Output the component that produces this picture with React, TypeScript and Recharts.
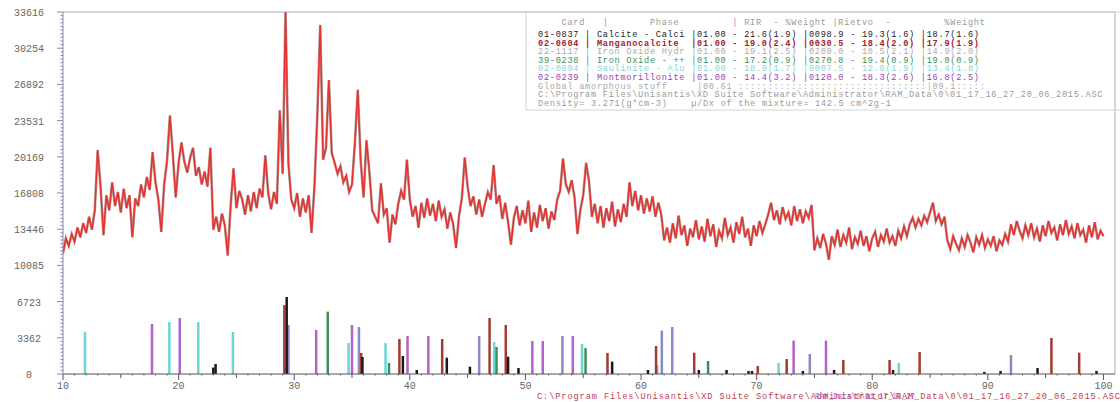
import { ComposedChart, Line, XAxis, YAxis, ReferenceLine } from "recharts";

// measured pattern: 10-100 deg 2theta, one reading every 0.25 deg
const angleStart = 10;
const angleStep = 0.25;
const counts = [
  11200, 12600, 11900, 13000, 12300, 13600, 12700, 14000, 13100, 14600, 13400, 15200, 20800, 17400, 12900, 16600, 15200, 17800, 15600, 16900,
  15000, 17200, 15400, 16600, 12700, 16300, 15600, 17600, 16400, 18300, 17100, 20600, 17800, 16200, 13200, 17600, 19800, 24000, 20400, 16400,
  19600, 21500, 19700, 18700, 20100, 21000, 18400, 19200, 17600, 18800, 17400, 21000, 13400, 14600, 13200, 14900, 13800, 11000, 15600, 19100,
  15400, 17000, 16200, 14800, 16600, 15100, 16900, 15400, 17200, 16400, 20300, 16800, 15300, 16900, 15800, 24500, 18600, 33600, 19500, 16200,
  15400, 16800, 14600, 16300, 15000, 16600, 13100, 17400, 24000, 32400, 19900, 21000, 27300, 20500, 19600, 18600, 19300, 17800, 18400, 16900,
  17600, 21500, 26400, 19800, 16400, 21700, 18800, 15200, 14600, 14000, 17700, 14800, 15400, 12200, 14800, 13900, 15800, 17000, 16200, 19900,
  16200, 14600, 15600, 13600, 15900, 14500, 16300, 14700, 15800, 14200, 16100, 14600, 15300, 13500, 15000, 13900, 11700, 14600, 16300, 20100,
  17400, 15600, 16500, 14800, 16200, 14600, 15800, 16900, 16200, 19400, 15800, 16600, 14400, 15900, 14100, 12000, 14500, 15600, 13800, 15200,
  14000, 16100, 13200, 15000, 13600, 15700, 14200, 15400, 13500, 15100, 14300, 16200, 17000, 20000, 17600, 16900, 18000, 16400, 13000, 15200,
  16600, 19600, 17900, 14600, 15800, 14000, 15600, 13600, 15400, 14200, 16000, 13700, 15300, 14100, 15800, 14600, 17800, 15600, 17000, 15200,
  16600, 14900, 16300, 15100, 16500, 14600, 15900, 14800, 12400, 13600, 12200, 14000, 12600, 14700, 12900, 13800, 11900, 13500, 12700, 14300,
  12500, 13700, 12300, 14400, 12800, 13900, 11800, 13300, 12600, 14500, 12900, 13600, 12200, 14100, 13000, 14600, 12700, 13500, 11900, 13800,
  12800, 14200, 13100, 13900, 14800, 15900, 14300, 15200, 13900, 15500, 14400, 15000, 13800, 15600, 14200, 15300, 14000, 15100, 14500, 15700,
  11500, 12600, 11700, 13000, 12100, 10600, 12800, 12000, 13400, 11800, 12900, 12200, 13600, 11600, 12700, 12100, 13300, 11900, 12800, 11400,
  12600, 13200, 11800, 12900, 12300, 13500, 12200, 12800, 11900, 13300, 12600, 13700, 12800, 13900, 14500, 13600, 14400, 13800, 14700, 14100,
  15000, 15900, 14200, 14800, 13900, 14600, 12400, 11600, 12800, 12100, 11500, 12600, 11800, 12900, 12200, 11300, 12700, 12000, 12900, 11700,
  12500, 11900, 12800, 11400, 12400, 12000, 13000, 12300, 13900, 12900, 14200, 13300, 12600, 13800, 12900, 14000, 12700, 13500, 12300, 13800,
  12800, 14200, 13100, 13600, 12400, 13900, 12900, 14300, 13000, 13700, 12600, 14000, 12900, 13400, 12200, 13800, 12700, 14100, 12500, 13300,
  12800,
];

const yMax = 33616;
const yTickLabels = ["0", "3362", "6723", "10085", "13446", "16808", "20169", "23531", "26892", "30254", "33616"];
const xTickLabels = [10, 20, 30, 40, 50, 60, 70, 80, 90, 100];

// reference sticks per phase: [2theta, intensity]
const calcite = [
  [23.0, 600], [23.2, 930], [29.35, 7150], [35.9, 1580], [39.4, 1670], [40.6, 370], [43.2, 1520],
  [45.2, 680], [48.5, 1610], [49.4, 560], [57.5, 1150], [60.6, 370], [65.0, 370], [67.4, 370],
  [69.3, 280], [69.6, 280], [74.0, 280], [76.7, 370], [81.8, 370], [89.7, 200], [91.1, 280],
  [94.3, 560], [99.4, 280],
];
const manganocalcite = [
  [29.15, 6400], [35.8, 1950], [39.1, 3250], [42.8, 3250], [46.9, 5200], [48.3, 4550], [57.1, 1950],
  [61.3, 2600], [64.6, 1980], [70.1, 740], [72.6, 1390], [77.5, 1300], [81.5, 1300], [84.1, 2040],
  [95.5, 3340], [97.9, 1980],
];
const ironOxideHydr = [
  [29.5, 4550], [35.6, 4360], [46.0, 3530], [53.2, 3530], [61.8, 4030], [62.7, 4360], [74.6, 1860], [92.0, 1760],
];
const ironOxide = [[32.9, 5790], [38.2, 1020], [47.5, 2510], [55.2, 2410], [65.8, 1210]];
const saulinite = [
  [11.9, 3930], [19.2, 4830], [21.7, 4830], [24.7, 3900], [34.7, 2870], [37.9, 2870], [47.3, 2970],
  [54.9, 2790], [61.4, 840], [71.9, 1020], [82.3, 1020],
];
const montmorillonite = [
  [17.7, 4640], [20.1, 5200], [31.9, 4090], [35.0, 4550], [39.8, 3530], [41.6, 3530], [50.6, 3060],
  [51.5, 3060], [54.1, 3530], [73.2, 3100], [76.0, 3100],
];

const legendText = [
  "    Card   |       Phase         | RIR  - %Weight |Rietvo  -         %Weight",
  "01-0837 | Calcite - Calci |01.00 - 21.6(1.9) |0098.9 - 19.3(1.6) |18.7(1.6)",
  "02-0604 | Manganocalcite  |01.00 - 19.0(2.4) |0030.5 - 18.4(2.0) |17.9(1.9)",
  "22-1117 | Iron Oxide Hydr |01.00 - 19.1(2.5) |0200.0 - 18.5(2.1) |14.9(2.0)",
  "39-0238 | Iron Oxide - ++ |01.00 - 17.2(0.9) |0270.8 - 19.4(0.9) |19.0(0.9)",
  "02-0094 | Saulinite - Alu |01.00 - 18.9(1.7) |0007.5 - 12.6(1.9) |13.4(1.8)",
  "02-0239 | Montmorillonite |01.00 - 14.4(3.2) |0120.0 - 18.3(2.6) |16.8(2.5)",
  "Global amorphous stuff     |00.61 ::::::::::::::::::::::::::::::::|09.1:::::",
  "C:\\Program Files\\Unisantis\\XD Suite Software\\Administrator\\RAM_Data\\0\\01_17_16_27_20_06_2015.ASC",
  "Density= 3.271(g*cm-3)    \u00b5/Dx of the mixture= 142.5 cm^2g-1",
];
const filePath = "C:\\Program Files\\Unisantis\\XD Suite Software\\Administrator\\RAM_Data\\0\\01_17_16_27_20_06_2015.ASC";

const phases = [
  { peaks: saulinite, color: "#6ad6d6" },
  { peaks: montmorillonite, color: "#b262c8" },
  { peaks: ironOxideHydr, color: "#8c88c4" },
  { peaks: ironOxide, color: "#3f8f58" },
  { peaks: manganocalcite, color: "#a43a32" },
  { peaks: calcite, color: "#1a1a1a" },
];
const legendColors = ["#999", "#222", "#a3202c", "#aaa", "#3d8d55", "#7fd6d6", "#9c3cb4", "#aaa", "#999", "#999"];

const data = counts.map((c, i) => ({ angle: angleStart + i * angleStep, counts: c }));
const xTicks = Array.from({ length: 91 }, (_, i) => 10 + i);
const yTicks = Array.from({ length: 101 }, (_, i) => (yMax * i) / 100);

const mono = "'Liberation Mono', 'DejaVu Sans Mono', monospace";
const charW = 5.88;

const XTick = (props: any) => {
  const { x, y, payload } = props;
  const v = Math.round(payload.value);
  const len = v % 10 === 0 ? 6 : v % 5 === 0 ? 4 : 1.5;
  return (
    <g>
      <line x1={x} x2={x} y1={y} y2={y + len} stroke="#555" strokeWidth={1} />
      {xTickLabels.includes(v) && (
        <text x={x} y={y + 15} textAnchor="middle" fontSize={10} fontFamily={mono} fill="#666">
          {v}
        </text>
      )}
    </g>
  );
};

const YTick = (props: any) => {
  const { x, y, payload } = props;
  const i = Math.round((payload.value / yMax) * 100);
  const major = i % 10 === 0;
  return (
    <g>
      <line x1={x - (major ? 6 : 2.5)} x2={x} y1={y} y2={y} stroke="#8a82b0" strokeWidth={1} />
      {major && (
        <text x={x - 34} y={y + 4} textAnchor="middle" fontSize={10} fontFamily={mono} fill="#666">
          {yTickLabels[i / 10]}
        </text>
      )}
    </g>
  );
};

export default function App() {
  return (
    <div style={{ position: "relative", width: 1120, height: 402, background: "#fff" }}>
      <style>{"body{margin:0}"}</style>
      <ComposedChart width={1120} height={402} data={data} margin={{ top: 12, right: 5, left: 0, bottom: 0 }}>
        <XAxis
          dataKey="angle"
          type="number"
          domain={[10, 101]}
          ticks={xTicks}
          interval={0}
          tickSize={0}
          tickMargin={0}
          tick={<XTick />}
          stroke="#555"
          height={28}
          allowDataOverflow
        />
        <YAxis
          type="number"
          domain={[0, yMax]}
          ticks={yTicks}
          interval={0}
          tickSize={0}
          tickMargin={0}
          tick={<YTick />}
          stroke="#8a82b0"
          width={63}
          allowDataOverflow
        />
        <ReferenceLine y={yMax} stroke="#aaa" strokeWidth={1} />
        <ReferenceLine x={101} stroke="#aaa" strokeWidth={1} />
        {phases.map((ph, pi) =>
          ph.peaks.map(([a, h], k) => (
            <ReferenceLine
              key={`p${pi}-${k}`}
              segment={[{ x: a, y: 0 }, { x: a, y: h }]}
              stroke={ph.color}
              strokeWidth={2.5}
            />
          ))
        )}
        <Line dataKey="counts" stroke="#7a3a3a" strokeWidth={2.6} strokeOpacity={0.55} dot={false} isAnimationActive={false} />
        <Line dataKey="counts" stroke="#e8302c" strokeWidth={1.4} dot={false} isAnimationActive={false} />
      </ComposedChart>
      <svg width={1120} height={402} style={{ position: "absolute", left: 0, top: 0, pointerEvents: "none" }}>
        <rect x={526} y={12} width={600} height={98} fill="none" stroke="#d4d4d4" />
        {legendText.map((t, i) => (
          <text
            key={i}
            x={538}
            y={i === 0 ? 25 : 37 + (i - 1) * 8.6}
            fontSize={8.6}
            fontFamily={mono}
            fill={legendColors[i]}
            fontWeight={i === 2 ? "bold" : "normal"}
            textLength={t.length * charW}
            lengthAdjust="spacing"
            style={{ whiteSpace: "pre" }}
          >
            {t}
          </text>
        ))}
        <text x={537} y={399} fontSize={8.6} fontFamily={mono} fill="#c0404c" textLength={583} lengthAdjust="spacing">
          {filePath}
        </text>
        <text x={815} y={399} fontSize={8.6} fontFamily={mono} fill="#9a3cb0" fillOpacity={0.8} textLength={100} lengthAdjust="spacingAndGlyphs">
          RAM_Data\0\01_17_16_27
        </text>
      </svg>
    </div>
  );
}
